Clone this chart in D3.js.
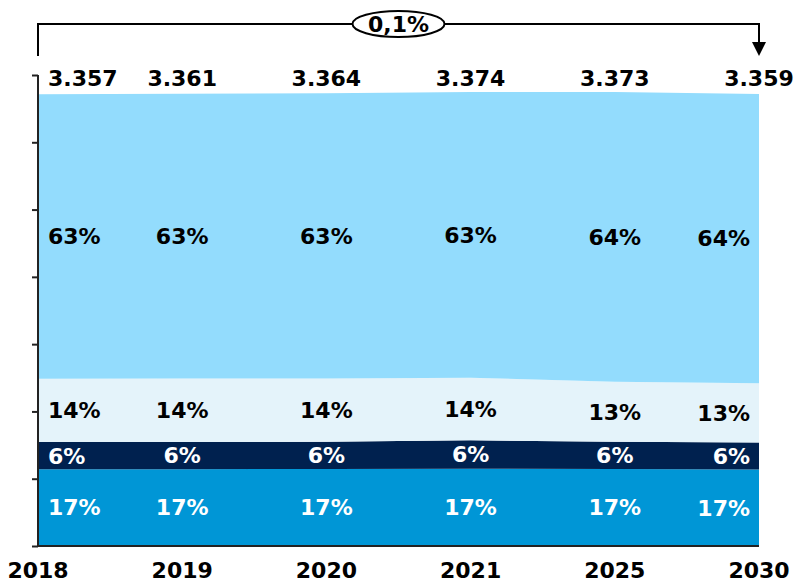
<!DOCTYPE html>
<html>
<head>
<meta charset="utf-8">
<script src="https://cdn.jsdelivr.net/npm/d3@7"></script>
<style>
  body { margin: 0; background: #fff; }
  text { font-family: "DejaVu Sans", Verdana, sans-serif; font-weight: bold; }
</style>
</head>
<body>
<div class="canvas"></div>
<script>
const years = ['2018', '2019', '2020', '2021', '2025', '2030'];
const seriesA = [571, 571, 572, 574, 573, 568];      // bottom, 17%
const seriesB = [201, 202, 202, 211, 202, 202];      // navy, 6%
const seriesC = [470, 471, 471, 466, 445, 440];      // pale, 14% / 13%
const seriesD = [2115, 2117, 2119, 2123, 2153, 2149]; // light blue, 63% / 64%
const yTicks = [0, 500, 1000, 1500, 2000, 2500, 3000, 3500];
const changeLabel = '0,1%';

const keys = ['a', 'b', 'c', 'd'];
const colours = { a: '#0096d6', b: '#00214f', c: '#e4f3fa', d: '#93dcfd' };
const labelColours = { a: '#fff', b: '#fff', c: '#000', d: '#000' };

const data = years.map((y, i) => ({
    year: y, a: seriesA[i], b: seriesB[i], c: seriesC[i], d: seriesD[i]
}));
data.forEach(d => d.total = d.a + d.b + d.c + d.d);

const dims = { width: 796, height: 582 };
const m = { left: 38, right: 759, bottom: 546, top: 75 };
const fs = 22;

const svg = d3.select('.canvas')
    .append('svg')
    .attr('width', dims.width)
    .attr('height', dims.height);

const x = d3.scalePoint()
    .domain(years)
    .range([m.left, m.right]);

const y = d3.scaleLinear()
    .domain([0, 3500])
    .range([m.bottom, m.top]);

const stack = d3.stack().keys(keys);
const layers = stack(data);

const area = d3.area()
    .x(d => x(d.data.year))
    .y0(d => y(d[0]))
    .y1(d => y(d[1]));

svg.selectAll('.layer')
    .data(layers)
    .enter()
    .append('path')
    .attr('class', 'layer')
    .attr('fill', d => colours[d.key])
    .attr('d', area);

// axes
const yAxis = d3.axisLeft(y)
    .tickValues(yTicks)
    .tickSize(6)
    .tickFormat('');

const ax = svg.append('g')
    .attr('transform', `translate(${m.left}, 0)`)
    .call(yAxis);
ax.selectAll('path, line').attr('stroke', '#222').attr('stroke-width', 2);
ax.select('.domain').attr('d', `M0,${m.top}V${m.bottom}`);

svg.append('line')
    .attr('x1', m.left).attr('x2', m.right)
    .attr('y1', m.bottom).attr('y2', m.bottom)
    .attr('stroke', '#222')
    .attr('stroke-width', 2);

// year labels
svg.selectAll('.year')
    .data(years)
    .enter()
    .append('text')
    .attr('class', 'year')
    .attr('x', d => x(d))
    .attr('y', 578)
    .attr('text-anchor', 'middle')
    .attr('font-size', fs)
    .text(d => d);

// percentage labels
const anchorFor = i => i === 0 ? 'start' : (i === years.length - 1 ? 'end' : 'middle');
const dxFor = i => i === 0 ? 10 : (i === years.length - 1 ? -9 : 0);

layers.forEach(layer => {
    svg.selectAll('.pct-' + layer.key)
        .data(layer)
        .enter()
        .append('text')
        .attr('x', (d, i) => x(d.data.year) + dxFor(i))
        .attr('y', d => y((d[0] + d[1]) / 2))
        .attr('dy', '0.36em')
        .attr('text-anchor', (d, i) => anchorFor(i))
        .attr('font-size', fs)
        .attr('fill', labelColours[layer.key])
        .text(d => Math.round((d[1] - d[0]) / d.data.total * 100) + '%');
});

// totals
const loc = d3.formatLocale({ decimal: ',', thousands: '.', grouping: [3], currency: ['', '€'] });
const fmt = loc.format(',');

svg.selectAll('.total')
    .data(data)
    .enter()
    .append('text')
    .attr('class', 'total')
    .attr('x', (d, i) => i === 0 ? m.left + 10 : x(d.year))
    .attr('y', 86)
    .attr('text-anchor', (d, i) => i === 0 ? 'start' : 'middle')
    .attr('font-size', fs)
    .text(d => fmt(d.total));

// change bracket
const bracketY = 24;
svg.append('path')
    .attr('fill', 'none')
    .attr('stroke', '#000')
    .attr('stroke-width', 2)
    .attr('d', `M${m.left},56V${bracketY}H${m.right}V46`);

svg.append('path')
    .attr('fill', '#000')
    .attr('d', `M${m.right - 7},42L${m.right + 7},42L${m.right},56Z`);

const midX = (m.left + m.right) / 2;
svg.append('ellipse')
    .attr('cx', midX).attr('cy', bracketY)
    .attr('rx', 46).attr('ry', 13)
    .attr('fill', '#fff')
    .attr('stroke', '#000')
    .attr('stroke-width', 2);

svg.append('text')
    .attr('x', midX)
    .attr('y', bracketY)
    .attr('dy', '0.36em')
    .attr('text-anchor', 'middle')
    .attr('font-size', fs)
    .text(changeLabel);
</script>
</body>
</html>
